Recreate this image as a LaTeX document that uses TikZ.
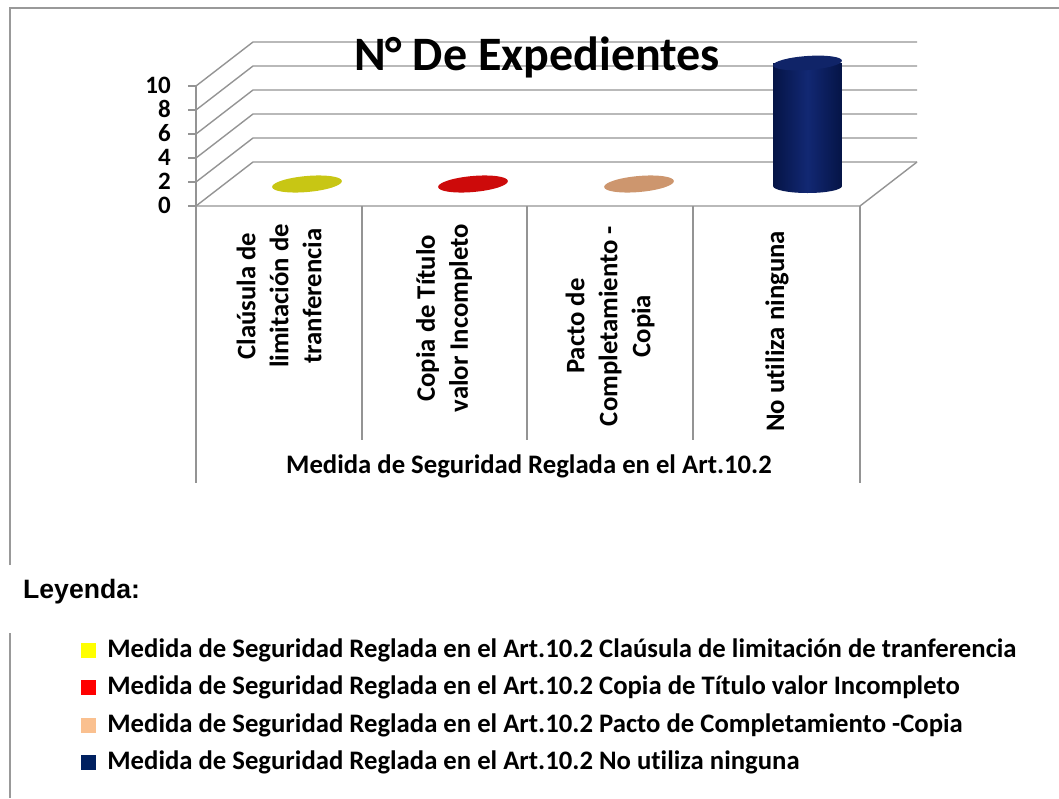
\documentclass[tikz,border=0pt]{standalone}
\usepackage{fontspec}
\setmainfont{Carlito}[Ligatures=NoCommon]
\newfontfamily\arialfont{Liberation Sans}
\usetikzlibrary{positioning}
\usetikzlibrary{calc}
\definecolor{keyyellow}{RGB}{255,255,0}
\definecolor{keyred}{RGB}{255,0,0}
\definecolor{keypeach}{RGB}{250,192,143}
\definecolor{keynavy}{RGB}{0,32,96}
\definecolor{baryellow}{RGB}{200,198,20}
\definecolor{barred}{RGB}{205,10,10}
\definecolor{barpeach}{RGB}{205,150,110}
\definecolor{navydark}{RGB}{5,20,70}
\definecolor{navylight}{RGB}{18,40,115}
\tikzset{
    % Grey rules of the walls and the floor
    wall line/.style={draw=black!42, line width=1.4pt},
%
    % Grey rules round the chart and the legend
    frame line/.style={draw=black!40, line width=1.3pt},
%
    % Bold text of the chart
    chart text/.style={font=\fontsize{26.7}{33}\selectfont\bfseries, inner sep=0pt},
%
    % Numbers of the value axis, boxed as tight as the digits
    tick label/.style={font=\fontsize{25}{25}\selectfont\bfseries, inner sep=0pt,
        anchor=east, text height=15pt, text depth=0pt},
%
    % Category names, turned to read upwards
    category/.style={chart text, rotate=90, anchor=east, align=center},
%
    % Coloured squares of the legend
    legend key/.style={minimum size=15pt, inner sep=0pt}}

\begin{document}
\begin{tikzpicture}[x=1pt, y=-1pt]
\useasboundingbox (0,0) rectangle (1059,798);

% frame
\draw[frame line] (10,565) -- (10,8) -- (1059,8);
\draw[frame line] (10,633) -- (10,798);

% back wall, side wall and floor
\foreach \k in {0,...,5} {
    \draw[wall line] (196,206-24*\k) -- (253,162-24*\k) -- (917,162-24*\k);
    \draw[wall line] (188,206-24*\k) -- (196,206-24*\k);
    \pgfmathtruncatemacro{\val}{2*\k}
    \node[tick label] (tick\k) at (171,206-24*\k) {\val};
}
\draw[wall line] (196,86) -- (196,483);
\draw[wall line] (196,206) -- (860,206) -- (917,162);
\draw[wall line] (860,206) -- (860,483);
\foreach \x in {362,527,693}
    \draw[wall line] (\x,206) -- (\x,440);

\node[font=\fontsize{48}{52}\selectfont\bfseries] (title) at (537,57)
    {N° De Expedientes};

% bars
\fill[baryellow, rotate around={5:(307,184)}] (307,184) ellipse [x radius=35pt, y radius=8pt];
\fill[barred, rotate around={5:(473,184)}] (473,184) ellipse [x radius=35pt, y radius=8pt];
\fill[barpeach, rotate around={5:(639,184)}] (639,184) ellipse [x radius=35pt, y radius=8pt];
\shade[left color=navydark, right color=navydark, middle color=navylight]
    (773,63) -- (773,186) arc [start angle=180, end angle=360, x radius=34.5pt, y radius=7pt]
    -- (842,63) -- cycle;
\fill[navylight!90!black, rotate around={4:(807.5,63)}] (807.5,63) ellipse [x radius=34.5pt, y radius=7pt];

% category names
\node[category] (cat1) at (279,224) {Claúsula de\\limitación de\\tranferencia};
\node[category] (cat2) at (444,224) {Copia de Título\\valor Incompleto};
\node[category] (cat3) at (610,226) {Pacto de\\Completamiento -\\Copia};
\node[category] (cat4) at (777,231) {No utiliza ninguna};
\node[chart text] (axis name) at (529,466) {Medida de Seguridad Reglada en el Art.10.2};

% legend
\node[font=\arialfont\fontsize{26.6}{30}\selectfont\bfseries, anchor=west, inner sep=0pt]
    (leyenda) at (23,592) {Leyenda:};
\foreach \n/\col/\txt [count=\i from 0] in {
    a/keyyellow/Claúsula de limitación de tranferencia,
    b/keyred/Copia de Título valor Incompleto,
    c/keypeach/Pacto de Completamiento -Copia,
    d/keynavy/No utiliza ninguna} {
    \node[legend key, fill=\col] (key\n) at (88.5,650+37.5*\i) {};
    \node[chart text, anchor=west, right=11pt of key\n] (entry\n)
        {Medida de Seguridad Reglada en el Art.10.2 \txt};
}
\end{tikzpicture}
\end{document}
